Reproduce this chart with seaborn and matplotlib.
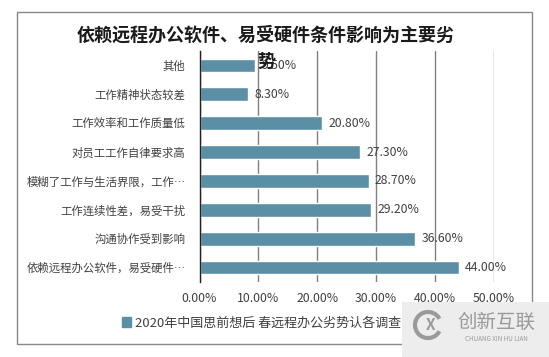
import pandas as pd
import matplotlib.pyplot as plt
import matplotlib.patches as mpatches
import seaborn as sns

# data
categories = ['其他', '工作精神状态较差', '工作效率和工作质量低', '对员工工作自律要求高',
              '模糊了工作与生活界限，工作…', '工作连续性差，易受干扰',
              '沟通协作受到影响', '依赖远程办公软件，易受硬件…']
values = [9.50, 8.30, 20.80, 27.30, 28.70, 29.20, 36.60, 44.00]
series_name = '2020年中国思前想后 春远程办公劣势认各调查'
title = '依赖远程办公软件、易受硬件条件影响为主要劣\n势'

data = pd.DataFrame({'cat': categories, 'val': values})

sns.set_theme(style='white')
plt.rcParams['font.family'] = ['Noto Sans CJK SC', 'DejaVu Sans']

W, H = 549, 357
fig = plt.figure(figsize=(W / 100, H / 100), dpi=100)
ax = fig.add_axes([199.5 / W, 1 - 282 / H, (494 - 199.5) / W, (282 - 51) / H])

bar_color = '#5b8fa6'
sns.barplot(data=data, x='val', y='cat', orient='h', color=bar_color,
            width=0.48, saturation=1, ax=ax)

ax.set_xlim(0, 50)
ax.set_xticks([0, 10, 20, 30, 40, 50])
ax.set_xticklabels(['%.2f%%' % t for t in [0, 10, 20, 30, 40, 50]])
ax.set_xlabel('')
ax.set_ylabel('')
ax.xaxis.grid(True, color='#808080', linewidth=1)
ax.set_axisbelow(True)
for s in ['top', 'right', 'bottom']:
    ax.spines[s].set_visible(False)
ax.spines['left'].set_color('#222222')
ax.spines['left'].set_linewidth(1)
ax.tick_params(axis='both', length=0, colors='#404040')
ax.tick_params(axis='x', labelsize=8.8, pad=7)
ax.tick_params(axis='y', labelsize=8.2, pad=10)

for i, v in enumerate(values):
    ax.text(v + 1.1, i, '%.2f%%' % v, va='center', ha='left',
            fontsize=8.8, color='#404040')

# title
fig.text(266 / W, 1 - 26 / H, title, ha='center', va='top', fontsize=13,
         fontweight='bold', color='#1a1a1a', linespacing=1.45)

# legend
handle = mpatches.Patch(color=bar_color, label=series_name)
fig.legend(handles=[handle], loc='center left', bbox_to_anchor=(110 / W, 1 - 323 / H),
           frameon=False, fontsize=9.4, handlelength=0.7, handleheight=0.7,
           handletextpad=0.35, labelcolor='#404040')

# outer frame
fig.patches.append(mpatches.Rectangle((17 / W, 1 - 344 / H), (532 - 17) / W, (344 - 12) / H,
                                      transform=fig.transFigure, fill=False,
                                      edgecolor='#888888', linewidth=1))

# watermark box
fig.patches.append(mpatches.Rectangle((402 / W, 0), (W - 402) / W, (H - 302) / H,
                                      transform=fig.transFigure, facecolor='#ededed',
                                      edgecolor='none', zorder=5))
fig.patches.append(mpatches.Arc((428 / W, 1 - 325 / H), 26 / W, 26 / H, theta1=40, theta2=320,
                                transform=fig.transFigure, color='#9a9a9a', linewidth=3,
                                zorder=6))
fig.text(431 / W, 1 - 325 / H, 'X', ha='center', va='center', fontsize=11,
         fontweight='bold', color='#9a9a9a', zorder=7)
fig.text(496 / W, 1 - 322 / H, '创新互联', ha='center', va='center', fontsize=14,
         color='#9a9a9a', zorder=7)
fig.text(496 / W, 1 - 339 / H, 'CHUANG XIN HU LIAN', ha='center', va='center', fontsize=4.5,
         color='#9a9a9a', zorder=7)

fig.savefig('out.png', dpi=100)
